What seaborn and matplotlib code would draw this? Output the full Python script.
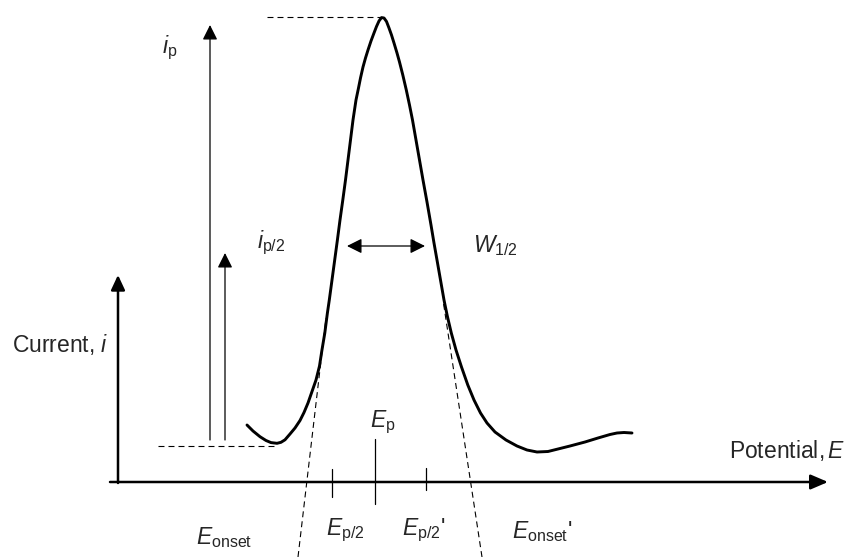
import matplotlib
matplotlib.use("Agg")
import matplotlib.pyplot as plt
import seaborn as sns

# voltammetric peak (x = potential, y = current; y axis runs downward)
curve_x = [247, 253, 260, 266, 271, 277, 281, 285, 290, 295, 300, 304, 308, 312, 316,
           319.5, 321.8, 324.8, 327.4, 329.3, 332, 334.7, 337.4, 340, 342.8, 345.5,
           348, 350.5, 353, 356, 358.5, 360.5, 363, 365.5, 368, 371, 374, 376.5, 379,
           381.5, 384, 386.5, 389, 391.5, 394, 397, 399.5, 402.8, 406.3, 409.5, 412.5,
           416, 419.5, 423, 427, 431, 434, 437, 440.5, 444, 447.3, 451.3, 456, 461.5,
           467.8, 474, 480.5, 487, 495, 506, 517, 527, 537, 548, 558, 570, 585, 598,
           610, 617, 624, 632]
curve_y = [425, 431, 436.7, 440.5, 442.6, 443.3, 442.3, 439.8, 434, 428, 420.5, 412.5,
           403, 391.5, 380, 366, 351, 333, 313, 300, 280, 260, 240, 220, 200, 180,
           160, 140, 120, 100, 88, 78, 67, 58, 50, 41, 33, 26.5, 21, 17.6, 18, 21.5,
           28, 35, 43, 53, 62, 75, 90, 105, 120, 140, 160, 180, 202, 225, 243, 260,
           280, 300, 316, 333, 350, 367, 385, 400, 413, 423, 432, 440, 446, 450, 452,
           451.5, 449, 446, 442, 438, 434.5, 433, 432.5, 433]

# construction lines
peak_level = [(267, 17), (381, 17)]
base_level = [(158, 446), (277, 446)]
tangent_left = [(298, 557), (326, 318)]
tangent_right = [(482, 557), (443, 300)]

# marks on the potential axis: x, top, bottom
axis_ticks_x = [332, 375, 426]
axis_ticks_top = [469, 439, 468]
axis_ticks_bottom = [497, 504, 490]

labels = [r"$i_\mathrm{p}$", r"$i_\mathrm{p/2}$", r"$W_\mathrm{1/2}$", r"Current, $i$",
          r"$E_\mathrm{p}$", r"$E_\mathrm{onset}$", r"$E_\mathrm{p/2}$",
          r"$E_\mathrm{p/2}$'", r"$E_\mathrm{onset}$'", r"Potential,$\,E$"]
label_x = [162, 257, 473, 12, 370, 196, 326, 402, 512, 729]
label_y = [53, 248, 252, 352, 427, 544, 535, 535, 538, 458]

sns.set_style("white")
plt.rcParams["font.family"] = ["Liberation Sans", "DejaVu Sans"]
plt.rcParams["mathtext.fontset"] = "custom"
plt.rcParams["mathtext.rm"] = "Liberation Sans"
plt.rcParams["mathtext.it"] = "Liberation Sans:italic"
plt.rcParams["lines.scale_dashes"] = False

fig = plt.figure(figsize=(8.45, 5.57), dpi=100)
ax = fig.add_axes([0, 0, 1, 1])

sns.lineplot(x=curve_x, y=curve_y, sort=False, estimator=None, color="black",
             linewidth=2.1, ax=ax)

dash = dict(color="black", linewidth=0.8, linestyle=(0, (4.3, 2.9)))
for seg in [peak_level, base_level, tangent_left, tangent_right]:
    ax.plot([seg[0][0], seg[1][0]], [seg[0][1], seg[1][1]], **dash)

for x, t, b in zip(axis_ticks_x, axis_ticks_top, axis_ticks_bottom):
    ax.plot([x, x], [t, b], color="black", linewidth=0.9)


def arrow(tail, tip, lw=0.9, style="-|>", hl=0.6, hw=0.3):
    ax.annotate("", xy=tip, xytext=tail,
                arrowprops=dict(arrowstyle=f"{style},head_length={hl},head_width={hw}",
                                color="black", lw=lw, shrinkA=0, shrinkB=0,
                                mutation_scale=15))


# axes with arrow heads
arrow((118, 483), (118, 275), lw=1.8, hl=0.6, hw=0.28)
arrow((110, 482), (828, 482), lw=1.8, hl=0.7, hw=0.3)
# i_p and i_p/2 arrows
arrow((210, 440), (210, 25))
arrow((225, 440), (225, 253))
# half width
arrow((347, 246), (425, 246), style="<|-|>")

for txt, x, y in zip(labels, label_x, label_y):
    ax.text(x, y, txt, fontsize=16.5, ha="left", va="baseline")

ax.set_xlim(0, 845)
ax.set_ylim(557, 0)
ax.axis("off")

fig.savefig("out.png", dpi=100)
